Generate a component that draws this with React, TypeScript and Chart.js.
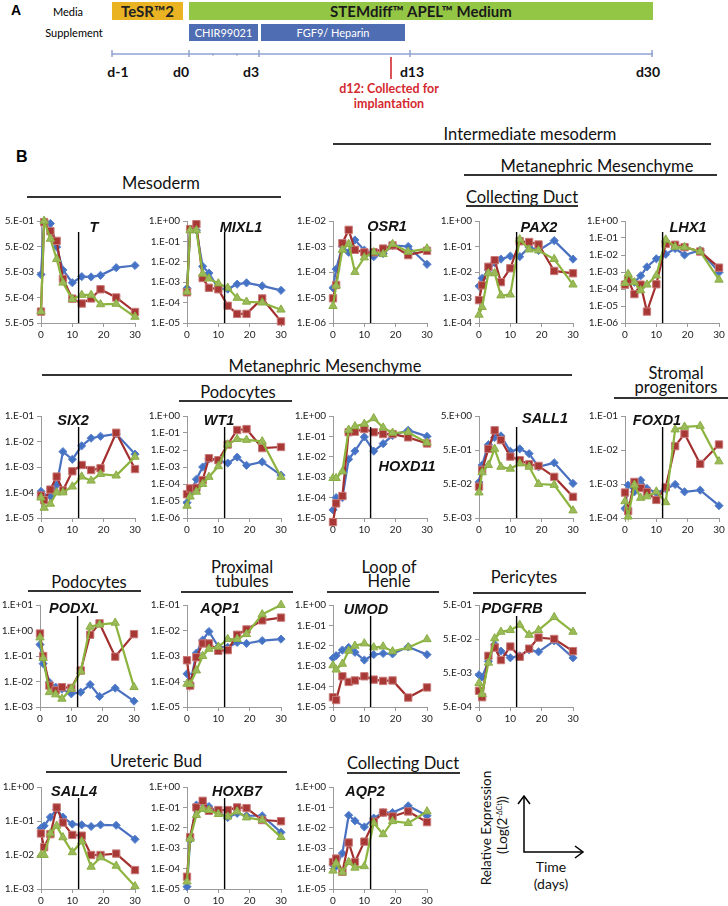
import React, { useEffect, useRef } from "react";
import { Chart, registerables } from "chart.js";

Chart.register(...registerables);

// ---------------- DATA ----------------
const DAYS = [0, 1, 3, 5, 7, 10, 13, 16, 19, 24, 30];
const X_TICKS = [0, 10, 20, 30];
const X_LABELS = ["0", "10", "20", "30"];
const COLLECTION_DAY = 12;

const TICKS_5_5_1 = [5e-5, 5e-4, 5e-3, 5e-2, 5e-1];
const LABELS_5_5_1 = ["5.E-05", "5.E-04", "5.E-03", "5.E-02", "5.E-01"];
const TICKS_1_5_0 = [1e-5, 1e-4, 1e-3, 1e-2, 1e-1, 1];
const LABELS_1_5_0 = ["1.E-05", "1.E-04", "1.E-03", "1.E-02", "1.E-01", "1.E+00"];
const TICKS_1_6_2 = [1e-6, 1e-5, 1e-4, 1e-3, 1e-2];
const LABELS_1_6_2 = ["1.E-06", "1.E-05", "1.E-04", "1.E-03", "1.E-02"];
const TICKS_1_4_0 = [1e-4, 1e-3, 1e-2, 1e-1, 1];
const LABELS_1_4_0 = ["1.E-04", "1.E-03", "1.E-02", "1.E-01", "1.E+00"];
const TICKS_1_6_0 = [1e-6, 1e-5, 1e-4, 1e-3, 1e-2, 1e-1, 1];
const LABELS_1_6_0 = ["1.E-06", "1.E-05", "1.E-04", "1.E-03", "1.E-02", "1.E-01", "1.E+00"];
const TICKS_1_5_1 = [1e-5, 1e-4, 1e-3, 1e-2, 1e-1];
const LABELS_1_5_1 = ["1.E-05", "1.E-04", "1.E-03", "1.E-02", "1.E-01"];
const TICKS_5_3_0 = [5e-3, 5e-2, 5e-1, 5];
const LABELS_5_3_0 = ["5.E-03", "5.E-02", "5.E-01", "5.E+00"];
const TICKS_1_4_1 = [1e-4, 1e-3, 1e-2, 1e-1];
const LABELS_1_4_1 = ["1.E-04", "1.E-03", "1.E-02", "1.E-01"];
const TICKS_1_3_p1 = [1e-3, 1e-2, 1e-1, 1, 10];
const LABELS_1_3_p1 = ["1.E-03", "1.E-02", "1.E-01", "1.E+00", "1.E+01"];
const TICKS_5_4_1 = [5e-4, 5e-3, 5e-2, 5e-1];
const LABELS_5_4_1 = ["5.E-04", "5.E-03", "5.E-02", "5.E-01"];
const TICKS_1_3_0 = [1e-3, 1e-2, 1e-1, 1];
const LABELS_1_3_0 = ["1.E-03", "1.E-02", "1.E-01", "1.E+00"];

const T_BLUE = [4e-3, 0.5, 0.4, 0.048, 6e-3, 1.9e-3, 3.3e-3, 3.2e-3, 3.7e-3, 7.4e-3, 9e-3];
const T_RED = [1.4e-4, 0.45, 0.2, 0.083, 2.7e-3, 4.5e-4, 2.9e-4, 4.6e-4, 1.05e-3, 5e-4, 1.35e-4];
const T_GREEN = [1.4e-4, 0.5, 0.1, 0.016, 1.9e-3, 4.3e-4, 6.3e-4, 6.3e-4, 2.7e-4, 2.8e-4, 8.7e-5];

const MIXL1_BLUE = [5e-4, 0.4, 0.35, 6e-3, 2.8e-3, 5e-4, 4.6e-4, 8e-4, 9.3e-4, 6.6e-4, 4e-4];
const MIXL1_RED = [3.2e-4, 0.4, 0.7, 1.6e-3, 5.3e-4, 4.5e-4, 7e-5, 2.8e-5, 2.8e-5, 1.6e-4, 1.2e-5];
const MIXL1_GREEN = [3.4e-4, 0.35, 0.35, 2.6e-3, 1.5e-3, 8.7e-4, 5.3e-4, 1.7e-4, 1.1e-4, 1e-4, 4.5e-5];

const OSR1_BLUE = [2.4e-5, 1.3e-4, 1e-3, 5.9e-4, 1.8e-3, 7.2e-4, 4e-4, 5.3e-4, 1.1e-3, 1e-3, 2e-4];
const OSR1_RED = [9.3e-6, 3.1e-5, 1.35e-3, 4.5e-3, 7.4e-4, 5.9e-4, 5.9e-4, 8.3e-4, 1.1e-3, 4.6e-4, 6.8e-4];
const OSR1_GREEN = [4.6e-6, 2.9e-5, 7.4e-4, 1.25e-3, 1e-4, 3.7e-4, 5.9e-4, 5e-4, 1.25e-3, 6.2e-4, 8.3e-4];

const PAX2_BLUE = [2.8e-3, 5.7e-3, 1.2e-2, 2.3e-2, 3.2e-2, 4.2e-2, 4e-2, 9.4e-2, 7e-2, 0.17, 3.2e-2];
const PAX2_RED = [7.9e-4, 3e-3, 1.6e-2, 2.9e-2, 4e-3, 1.4e-2, 0.16, 0.15, 0.12, 1.1e-2, 8.9e-3];
const PAX2_GREEN = [2.1e-4, 4.2e-4, 8.9e-3, 8.9e-3, 1.2e-3, 1.3e-3, 0.19, 7.6e-2, 7e-2, 3.2e-2, 3.2e-3];

const LHX1_BLUE = [2e-4, 3e-4, 2.5e-4, 6e-4, 2e-3, 6e-3, 1.1e-2, 2.4e-2, 1e-2, 1.9e-2, 9.5e-4];
const LHX1_RED = [1.8e-4, 3.5e-4, 5e-5, 1.8e-4, 4.7e-6, 1.9e-4, 4.5e-2, 4e-2, 2.9e-2, 1.6e-2, 1.8e-3];
const LHX1_GREEN = [2.2e-4, 7.6e-4, 2.5e-4, 8.3e-5, 1.8e-4, 6.2e-4, 8e-2, 3e-2, 2.9e-2, 1.6e-2, 3.5e-4];

const SIX2_BLUE = [1.1e-4, 7e-5, 7e-5, 2e-4, 4e-3, 2e-3, 6.8e-3, 1.35e-2, 1.6e-2, 2e-2, 3.2e-3];
const SIX2_RED = [7.6e-5, 5e-5, 1.3e-4, 4.2e-4, 1.2e-4, 6.8e-4, 1.2e-3, 7.6e-4, 8.9e-4, 2.2e-2, 8.3e-4];
const SIX2_GREEN = [6.3e-5, 2.5e-5, 3.6e-5, 1e-4, 1e-4, 1.7e-4, 4.2e-4, 2.9e-4, 5.3e-4, 4.6e-4, 2.5e-3];

const WT1_BLUE = [8e-6, 2.6e-5, 1.9e-4, 1e-3, 3e-3, 2.5e-3, 1.7e-3, 3.8e-3, 1.25e-3, 2e-3, 3.3e-4];
const WT1_RED = [2.5e-5, 5.5e-5, 6e-5, 1.7e-4, 3.3e-3, 2.5e-3, 2.1e-2, 0.15, 0.17, 1.3e-2, 1.5e-2];
const WT1_GREEN = [5.2e-6, 1.8e-5, 3.5e-5, 1e-4, 2.6e-4, 1.1e-3, 2.1e-2, 4.4e-2, 3.9e-2, 3.2e-2, 2.6e-4];

const HOXD11_BLUE = [2.5e-5, 1e-4, 1e-4, 7.6e-3, 1.9e-2, 9.4e-2, 1.9e-2, 4.4e-2, 0.11, 0.2, 0.1];
const HOXD11_RED = [6.3e-6, 5.2e-5, 1.2e-4, 0.16, 0.17, 0.23, 0.16, 0.13, 0.13, 9e-2, 4.5e-2];
const HOXD11_GREEN = [9e-4, 9e-4, 1.9e-3, 0.21, 0.31, 0.41, 0.77, 0.27, 0.15, 0.16, 4.9e-2];

const SALL1_BLUE = [5.7e-2, 0.18, 0.72, 1.17, 1.3, 0.46, 0.54, 0.39, 0.16, 0.21, 5.2e-2];
const SALL1_RED = [4.2e-2, 0.13, 0.54, 1.9, 0.98, 0.32, 0.25, 0.19, 0.17, 8.1e-2, 2.1e-2];
const SALL1_GREEN = [2.8e-2, 0.11, 0.18, 0.54, 0.16, 0.14, 0.2, 0.16, 5e-2, 4.7e-2, 8.3e-3];

const FOXD1_BLUE = [1.9e-4, 9.3e-4, 5.9e-4, 1.3e-3, 7.4e-4, 5.5e-4, 7.2e-4, 9.7e-4, 5.9e-4, 6.6e-4, 2.3e-4];
const FOXD1_RED = [5.6e-4, 1.6e-4, 1.15e-3, 7.6e-4, 5.8e-4, 3.4e-4, 8e-4, 1.3e-2, 3e-2, 3.9e-3, 1.45e-2];
const FOXD1_GREEN = [3.1e-4, 1.1e-4, 9.4e-4, 3.9e-4, 4.3e-4, 6e-4, 2.9e-4, 4e-2, 4.8e-2, 5.1e-2, 4.6e-3];

const PODXL_BLUE = [0.28, 0.05, 9.4e-3, 6e-3, 5e-3, 3.3e-3, 3.8e-3, 7.6e-3, 2.6e-3, 5.5e-3, 1.7e-3];
const PODXL_RED = [0.76, 0.1, 6.9e-3, 4.5e-3, 6e-3, 5.6e-3, 2.7e-2, 0.68, 1.9, 9.4e-2, 0.72];
const PODXL_GREEN = [0.53, 8.3e-2, 3.8e-3, 3.1e-3, 2.1e-3, 5.2e-3, 2.5e-2, 1.4, 1.7, 2.0, 6e-3];

const AQP1_BLUE = [2e-4, 8e-5, 1.3e-3, 4.2e-3, 9.1e-3, 2.3e-3, 2.2e-3, 3.4e-3, 3.1e-3, 4e-3, 4.6e-3];
const AQP1_RED = [6.8e-4, 6.9e-5, 8.9e-4, 3.1e-3, 3.1e-3, 1.6e-3, 1.7e-3, 6.8e-3, 1.1e-2, 2.5e-2, 3.2e-2];
const AQP1_GREEN = [8.1e-5, 7.8e-5, 2.7e-4, 1e-3, 1.9e-3, 2.3e-3, 4.6e-3, 4.6e-3, 7.2e-3, 4.3e-2, 0.1];

const UMOD_BLUE = [2.5e-3, 3.3e-3, 6.2e-3, 8.3e-3, 4.8e-3, 2e-3, 3.7e-3, 4.2e-3, 4e-3, 8.9e-3, 3.7e-3];
const UMOD_RED = [3e-5, 2.2e-5, 3.2e-4, 1.7e-4, 2e-4, 3.2e-4, 2.2e-4, 1.9e-4, 2e-4, 2.9e-5, 9.1e-5];
const UMOD_GREEN = [1.1e-3, 6.8e-4, 1.3e-3, 5.7e-3, 1e-2, 1.3e-2, 8.3e-3, 9.2e-3, 5.3e-3, 8.3e-3, 2.1e-2];

const PDGFRB_BLUE = [4.4e-3, 3.8e-3, 1.1e-2, 3.5e-2, 2.2e-2, 1.4e-2, 1.6e-2, 2.4e-2, 2.1e-2, 4.4e-2, 1.4e-2];
const PDGFRB_RED = [1.5e-3, 9.7e-4, 1.6e-2, 2.8e-2, 1.2e-2, 3e-2, 1.5e-2, 2.6e-2, 5.5e-2, 5e-2, 2.2e-2];
const PDGFRB_GREEN = [2.5e-3, 1.2e-3, 1e-2, 5.2e-2, 8.1e-2, 9.1e-2, 0.13, 6.6e-2, 9.1e-2, 0.22, 8.1e-2];

const SALL4_BLUE = [6.2e-2, 7.2e-2, 0.13, 0.22, 0.13, 8.1e-2, 7.7e-2, 6.9e-2, 7.7e-2, 7.5e-2, 2.9e-2];
const SALL4_RED = [4.3e-2, 1.7e-2, 4.1e-2, 0.25, 9e-2, 3.9e-2, 3.7e-2, 1e-2, 1e-2, 1.1e-2, 3.6e-3];
const SALL4_GREEN = [1e-2, 1e-2, 4.3e-2, 7.2e-2, 3.3e-2, 1.2e-2, 2.5e-2, 4.5e-3, 8.5e-3, 4.8e-3, 1.2e-3];

const HOXB7_BLUE = [1.3e-5, 2.6e-3, 0.13, 0.17, 0.11, 5.7e-2, 3.2e-2, 5.1e-2, 3.9e-2, 3.9e-2, 6e-3];
const HOXB7_RED = [4e-5, 3.5e-3, 0.1, 0.21, 6.8e-2, 7.4e-2, 7.4e-2, 0.1, 9.2e-2, 2.4e-2, 2.1e-2];
const HOXB7_GREEN = [2.3e-5, 2.9e-3, 4.2e-2, 8.3e-2, 7.4e-2, 4.7e-2, 3.5e-2, 6.3e-2, 3.2e-2, 2.4e-2, 3.5e-3];

const AQP2_BLUE = [1.5e-4, 1.3e-4, 5.7e-4, 4.1e-2, 2.2e-2, 1.1e-2, 3e-2, 5.6e-2, 5.6e-2, 0.12, 3.9e-2];
const AQP2_RED = [2.1e-4, 3.1e-4, 7e-5, 1.9e-3, 2.1e-4, 2.1e-3, 2e-2, 5.6e-2, 3.6e-2, 6.3e-2, 1.9e-2];
const AQP2_GREEN = [7.9e-5, 1.8e-4, 6.5e-5, 2.1e-4, 1.1e-4, 1.3e-4, 1.7e-2, 4.8e-3, 2.1e-2, 1.7e-2, 6.3e-2];

// ---------------- STYLE / LAYOUT ----------------
const PLOT_W = 94;
const PLOT_H = 103;
const PAD_L = 40;
const PAD_T = 8;
const PAD_R = 10;
const PAD_B = 20;
const AXIS_COLOR = "#9a9a9a";
const BLUE = "#4a70c0";
const RED = "#a3302e";
const GREEN = "#8db43e";

type PanelSpec = {
  gene: string;
  ax: number;
  ty: number;
  gx: number;
  gy: number;
  blue: number[];
  red: number[];
  green: number[];
  ticks: number[];
  labels: string[];
};

const PANELS: PanelSpec[] = [
  { gene: "T", ax: 41, ty: 220, gx: 94, gy: 227, blue: T_BLUE, red: T_RED, green: T_GREEN, ticks: TICKS_5_5_1, labels: LABELS_5_5_1 },
  { gene: "MIXL1", ax: 187, ty: 220, gx: 241, gy: 227, blue: MIXL1_BLUE, red: MIXL1_RED, green: MIXL1_GREEN, ticks: TICKS_1_5_0, labels: LABELS_1_5_0 },
  { gene: "OSR1", ax: 333, ty: 220, gx: 387, gy: 226, blue: OSR1_BLUE, red: OSR1_RED, green: OSR1_GREEN, ticks: TICKS_1_6_2, labels: LABELS_1_6_2 },
  { gene: "PAX2", ax: 479, ty: 220, gx: 539, gy: 227, blue: PAX2_BLUE, red: PAX2_RED, green: PAX2_GREEN, ticks: TICKS_1_4_0, labels: LABELS_1_4_0 },
  { gene: "LHX1", ax: 625, ty: 220, gx: 688, gy: 227, blue: LHX1_BLUE, red: LHX1_RED, green: LHX1_GREEN, ticks: TICKS_1_6_0, labels: LABELS_1_6_0 },
  { gene: "SIX2", ax: 41, ty: 415, gx: 73, gy: 420, blue: SIX2_BLUE, red: SIX2_RED, green: SIX2_GREEN, ticks: TICKS_1_5_1, labels: LABELS_1_5_1 },
  { gene: "WT1", ax: 187, ty: 415, gx: 219, gy: 420, blue: WT1_BLUE, red: WT1_RED, green: WT1_GREEN, ticks: TICKS_1_6_0, labels: LABELS_1_6_0 },
  { gene: "HOXD11", ax: 333, ty: 415, gx: 407, gy: 466, blue: HOXD11_BLUE, red: HOXD11_RED, green: HOXD11_GREEN, ticks: TICKS_1_5_0, labels: LABELS_1_5_0 },
  { gene: "SALL1", ax: 479, ty: 415, gx: 545, gy: 418, blue: SALL1_BLUE, red: SALL1_RED, green: SALL1_GREEN, ticks: TICKS_5_3_0, labels: LABELS_5_3_0 },
  { gene: "FOXD1", ax: 625, ty: 415, gx: 657, gy: 420, blue: FOXD1_BLUE, red: FOXD1_RED, green: FOXD1_GREEN, ticks: TICKS_1_4_1, labels: LABELS_1_4_1 },
  { gene: "PODXL", ax: 40, ty: 604, gx: 74, gy: 608, blue: PODXL_BLUE, red: PODXL_RED, green: PODXL_GREEN, ticks: TICKS_1_3_p1, labels: LABELS_1_3_p1 },
  { gene: "AQP1", ax: 187, ty: 604, gx: 220, gy: 608, blue: AQP1_BLUE, red: AQP1_RED, green: AQP1_GREEN, ticks: TICKS_1_5_1, labels: LABELS_1_5_1 },
  { gene: "UMOD", ax: 333, ty: 604, gx: 366, gy: 609, blue: UMOD_BLUE, red: UMOD_RED, green: UMOD_GREEN, ticks: TICKS_1_5_0, labels: LABELS_1_5_0 },
  { gene: "PDGFRB", ax: 479, ty: 604, gx: 512, gy: 608, blue: PDGFRB_BLUE, red: PDGFRB_RED, green: PDGFRB_GREEN, ticks: TICKS_5_4_1, labels: LABELS_5_4_1 },
  { gene: "SALL4", ax: 41, ty: 786, gx: 74, gy: 791, blue: SALL4_BLUE, red: SALL4_RED, green: SALL4_GREEN, ticks: TICKS_1_3_0, labels: LABELS_1_3_0 },
  { gene: "HOXB7", ax: 187, ty: 786, gx: 237, gy: 791, blue: HOXB7_BLUE, red: HOXB7_RED, green: HOXB7_GREEN, ticks: TICKS_1_5_0, labels: LABELS_1_5_0 },
  { gene: "AQP2", ax: 333, ty: 786, gx: 365, gy: 791, blue: AQP2_BLUE, red: AQP2_RED, green: AQP2_GREEN, ticks: TICKS_1_5_0, labels: LABELS_1_5_0 },
];

const HEADINGS = [
  { text: "Intermediate mesoderm", cx: 530, cy: 134 },
  { text: "Metanephric Mesenchyme", cx: 597, cy: 166 },
  { text: "Collecting Duct", cx: 522, cy: 197 },
  { text: "Mesoderm", cx: 161, cy: 183 },
  { text: "Metanephric Mesenchyme", cx: 325, cy: 366 },
  { text: "Podocytes", cx: 238, cy: 392 },
  { text: "Stromal\nprogenitors", cx: 676, cy: 380 },
  { text: "Podocytes", cx: 89, cy: 582 },
  { text: "Proximal\ntubules", cx: 242, cy: 574 },
  { text: "Loop of\nHenle", cx: 389, cy: 574 },
  { text: "Pericytes", cx: 524, cy: 577 },
  { text: "Ureteric Bud", cx: 156, cy: 761 },
  { text: "Collecting Duct", cx: 403, cy: 763 },
];

const RULES = [
  { x1: 333, x2: 711, y: 144 },
  { x1: 464, x2: 717, y: 175 },
  { x1: 466, x2: 578, y: 206 },
  { x1: 27, x2: 281, y: 197 },
  { x1: 42, x2: 572, y: 375 },
  { x1: 179, x2: 292, y: 401 },
  { x1: 614, x2: 728, y: 398 },
  { x1: 28, x2: 141, y: 591 },
  { x1: 181, x2: 293, y: 592 },
  { x1: 327, x2: 439, y: 592 },
  { x1: 473, x2: 586, y: 593 },
  { x1: 46, x2: 287, y: 772 },
  { x1: 347, x2: 460, y: 773 },
];

const dayLinePlugin = {
  id: "dayLine",
  afterDatasetsDraw(chart: any) {
    const { ctx, chartArea, scales } = chart;
    const x = scales.x.getPixelForValue(COLLECTION_DAY);
    ctx.save();
    ctx.strokeStyle = "#000";
    ctx.lineWidth = 1.4;
    ctx.beginPath();
    ctx.moveTo(x, chartArea.top + 11);
    ctx.lineTo(x, chartArea.bottom);
    ctx.stroke();
    ctx.restore();
  },
};

function series(vals: number[]) {
  return DAYS.map((d, i) => ({ x: d, y: vals[i] }));
}

function MiniChart({ spec }: { spec: PanelSpec }) {
  const ref = useRef<HTMLCanvasElement>(null);
  useEffect(() => {
    const tickFont = { family: "Lato, 'Liberation Sans', sans-serif", size: 10 };
    const chart = new Chart(ref.current as HTMLCanvasElement, {
      type: "line",
      data: {
        datasets: [
          {
            data: series(spec.blue),
            borderColor: BLUE,
            backgroundColor: BLUE,
            pointBackgroundColor: "#4472c4",
            pointBorderColor: "#5b82cc",
            pointStyle: "rectRot",
            pointRadius: 4.1,
            borderWidth: 2.2,
            pointBorderWidth: 1,
            clip: false,
            order: 2,
          } as any,
          {
            data: series(spec.red),
            borderColor: RED,
            backgroundColor: RED,
            pointBackgroundColor: "#a83835",
            pointBorderColor: "#c87a78",
            pointStyle: "rect",
            pointRadius: 5.2,
            borderWidth: 2.2,
            pointBorderWidth: 1,
            clip: false,
            order: 1,
          } as any,
          {
            data: series(spec.green),
            borderColor: GREEN,
            backgroundColor: GREEN,
            pointBackgroundColor: "#9bbb59",
            pointBorderColor: "#8aae45",
            pointStyle: "triangle",
            pointRadius: 4.8,
            borderWidth: 2.2,
            pointBorderWidth: 1,
            clip: false,
            order: 0,
          } as any,
        ],
      },
      options: {
        animation: false,
        responsive: false,
        events: [],
        layout: { padding: { left: 0, top: PAD_T, right: PAD_R, bottom: 0 } },
        plugins: { legend: { display: false }, tooltip: { enabled: false } },
        scales: {
          x: {
            type: "linear",
            min: 0,
            max: 30,
            afterBuildTicks: (s: any) => {
              s.ticks = X_TICKS.map((v) => ({ value: v }));
            },
            afterFit: (s: any) => {
              s.height = PAD_B;
            },
            grid: { display: true, drawOnChartArea: false, drawTicks: true, tickLength: 4, color: AXIS_COLOR },
            border: { display: true, color: AXIS_COLOR, width: 1 },
            ticks: {
              font: tickFont,
              color: "#222",
              padding: 2,
              maxRotation: 0,
              autoSkip: false,
              callback: (_v: any, i: number) => X_LABELS[i],
            },
          },
          y: {
            type: "logarithmic",
            min: spec.ticks[0],
            max: spec.ticks[spec.ticks.length - 1],
            afterBuildTicks: (s: any) => {
              s.ticks = spec.ticks.map((v) => ({ value: v }));
            },
            afterFit: (s: any) => {
              s.width = PAD_L;
            },
            grid: { display: true, drawOnChartArea: false, drawTicks: true, tickLength: 4, color: AXIS_COLOR },
            border: { display: true, color: AXIS_COLOR, width: 1 },
            ticks: {
              font: tickFont,
              color: "#222",
              padding: 3,
              autoSkip: false,
              callback: (_v: any, i: number) => spec.labels[i],
            },
          },
        },
      } as any,
      plugins: [dayLinePlugin],
    });
    return () => chart.destroy();
  }, [spec]);
  return (
    <canvas
      ref={ref}
      width={PAD_L + PLOT_W + PAD_R}
      height={PAD_T + PLOT_H + PAD_B}
      style={{ position: "absolute", left: spec.ax - PAD_L, top: spec.ty - PAD_T }}
    />
  );
}

const headFont = "Lato, 'Liberation Sans', sans-serif";

function Centered({ cx, cy, children, style }: any) {
  return (
    <div
      style={{
        position: "absolute",
        left: cx,
        top: cy,
        transform: "translate(-50%, -50%)",
        whiteSpace: "pre",
        textAlign: "center",
        ...style,
      }}
    >
      {children}
    </div>
  );
}

function PanelA() {
  const boxText: React.CSSProperties = {
    position: "absolute",
    display: "flex",
    alignItems: "center",
    justifyContent: "center",
    fontFamily: headFont,
  };
  const tickXs = [112, 189, 259, 410, 652];
  const dLabels = [
    { t: "d-1", x: 118 },
    { t: "d0", x: 181 },
    { t: "d3", x: 251 },
    { t: "d13", x: 412 },
    { t: "d30", x: 648 },
  ];
  return (
    <>
      <div style={{ position: "absolute", left: 11, top: 2, fontFamily: "'Liberation Sans', Arial", fontWeight: 700, fontSize: 14 }}>A</div>
      <Centered cx={68} cy={11} style={{ fontFamily: headFont, fontSize: 11 }}>Media</Centered>
      <Centered cx={74} cy={32} style={{ fontFamily: headFont, fontSize: 11 }}>Supplement</Centered>
      <div style={{ ...boxText, left: 112, top: 2, width: 71, height: 18, background: "#e9b324", fontWeight: 700, fontSize: 15, color: "#222" }}>TeSR™2</div>
      <div style={{ ...boxText, left: 189, top: 2, width: 464, height: 18, background: "#94c646", fontWeight: 700, fontSize: 15, color: "#1a1a1a" }}>STEMdiff™ APEL™ Medium</div>
      <div style={{ ...boxText, left: 189, top: 24, width: 69, height: 17, background: "#4f6db3", fontSize: 11, color: "#fff" }}>CHIR99021</div>
      <div style={{ ...boxText, left: 261, top: 24, width: 144, height: 17, background: "#4f6db3", fontSize: 11, color: "#fff" }}>FGF9/ Heparin</div>
      <svg width={728} height={120} style={{ position: "absolute", left: 0, top: 0 }}>
        <line x1={112} y1={54} x2={653} y2={54} stroke="#8fa2d0" strokeWidth={1.5} />
        {tickXs.map((x) => (
          <line key={x} x1={x} y1={50} x2={x} y2={57} stroke="#8fa2d0" strokeWidth={1.5} />
        ))}
        <line x1={213} y1={53} x2={213} y2={56} stroke="#8fa2d0" strokeWidth={1} />
        <line x1={237} y1={53} x2={237} y2={56} stroke="#8fa2d0" strokeWidth={1} />
        <line x1={391} y1={57} x2={391} y2={79} stroke="#d42a2f" strokeWidth={1.6} />
      </svg>
      {dLabels.map((d) => (
        <Centered key={d.t} cx={d.x} cy={71} style={{ fontFamily: headFont, fontWeight: 700, fontSize: 14, color: "#111" }}>
          {d.t}
        </Centered>
      ))}
      <Centered cx={389} cy={96} style={{ fontFamily: headFont, fontWeight: 700, fontSize: 12.5, color: "#d42a2f", lineHeight: "15px" }}>
        {"d12: Collected for\nimplantation"}
      </Centered>
    </>
  );
}

export default function App() {
  return (
    <div style={{ position: "absolute", left: 0, top: 0, width: 728, height: 906, background: "#fff", overflow: "hidden" }}>
      <PanelA />
      <div style={{ position: "absolute", left: 16, top: 148, fontFamily: "'Liberation Sans', Arial", fontWeight: 700, fontSize: 16 }}>B</div>
      {HEADINGS.map((h, i) => (
        <Centered key={i} cx={h.cx} cy={h.cy} style={{ fontFamily: headFont, fontSize: 16.5, lineHeight: "14px", color: "#111" }}>
          {h.text}
        </Centered>
      ))}
      {RULES.map((r, i) => (
        <div key={i} style={{ position: "absolute", left: r.x1, top: r.y - 1, width: r.x2 - r.x1, height: 1.6, background: "#333" }} />
      ))}
      {PANELS.map((p) => (
        <MiniChart key={p.gene} spec={p} />
      ))}
      {PANELS.map((p) => (
        <Centered key={p.gene + "_l"} cx={p.gx} cy={p.gy} style={{ fontFamily: "'Liberation Sans', Arial", fontWeight: 700, fontStyle: "italic", fontSize: 14.5, color: "#111" }}>
          {p.gene}
        </Centered>
      ))}
      {/* axis key */}
      <div
        style={{
          position: "absolute",
          left: 486,
          top: 828,
          transform: "translate(-50%, -50%) rotate(-90deg)",
          whiteSpace: "nowrap",
          fontFamily: headFont,
          fontSize: 13.5,
          color: "#111",
        }}
      >
        Relative Expression
      </div>
      <div
        style={{
          position: "absolute",
          left: 502,
          top: 825,
          transform: "translate(-50%, -50%) rotate(-90deg)",
          whiteSpace: "nowrap",
          fontFamily: headFont,
          fontSize: 13.5,
          color: "#111",
        }}
      >
        (Log(2<sup style={{ fontSize: 7 }}>-ΔCt</sup>))
      </div>
      <svg width={100} height={80} style={{ position: "absolute", left: 510, top: 790 }}>
        <polyline points="14,6 14,62 73,62" fill="none" stroke="#000" strokeWidth={1.5} />
        <polyline points="8,14 14,6 20,14" fill="none" stroke="#000" strokeWidth={1.5} />
        <polyline points="65,56 73,62 65,68" fill="none" stroke="#000" strokeWidth={1.5} />
      </svg>
      <Centered cx={551} cy={866} style={{ fontFamily: headFont, fontSize: 14, color: "#111" }}>Time</Centered>
      <Centered cx={551} cy={883} style={{ fontFamily: headFont, fontSize: 14, color: "#111" }}>(days)</Centered>
    </div>
  );
}
